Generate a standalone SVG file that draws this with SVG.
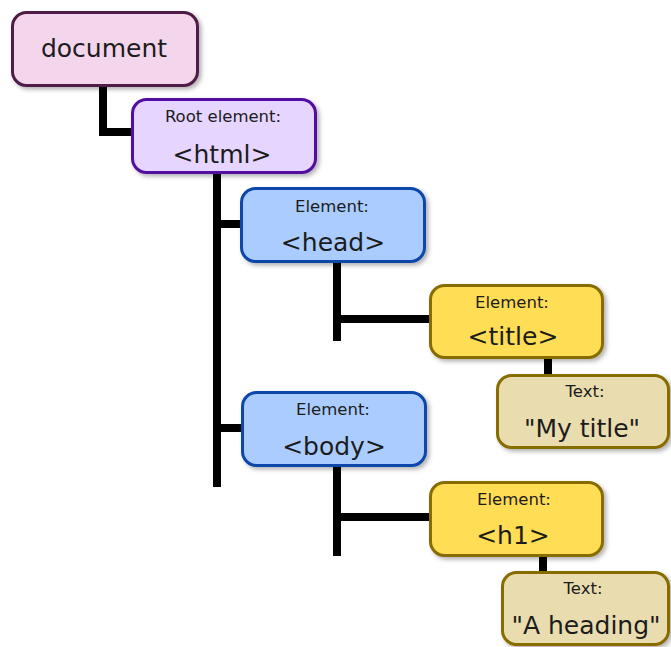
<svg xmlns="http://www.w3.org/2000/svg" width="671" height="647" viewBox="0 0 671 647">
  <defs>
    <filter id="shadow" x="-10%" y="-10%" width="130%" height="140%">
      <feDropShadow dx="2.5" dy="2.5" stdDeviation="2" flood-color="#000" flood-opacity="0.3"/>
    </filter>
  </defs>
  <style>
    .box { stroke-width: 3; filter: url(#shadow); }
    .doc { fill: #f4d6ec; stroke: #501a46; }
    .root { fill: #e5d5ff; stroke: #5210a0; }
    .elem { fill: #aaccff; stroke: #0a47aa; }
    .leaf { fill: #ffdd55; stroke: #876c00; }
    .txt { fill: #e9ddaf; stroke: #876c00; }
    text { font-family: "DejaVu Sans", "Noto Sans", sans-serif; fill: #1c1c1c; text-anchor: middle; }
    .small { font-size: 16.5px; }
    .big { font-size: 25px; }
    .wire { fill: none; stroke: #000; stroke-width: 8; stroke-linejoin: miter; stroke-linecap: butt; }
  </style>

  <!-- tree connectors -->
  <g id="connectors">
    <polyline class="wire" points="103,86 103,132 134,132"/>
    <line class="wire" x1="217" y1="174" x2="217" y2="487"/>
    <line class="wire" x1="217" y1="224" x2="242" y2="224"/>
    <line class="wire" x1="217" y1="428" x2="243" y2="428"/>
    <line class="wire" x1="337" y1="263" x2="337" y2="341"/>
    <line class="wire" x1="337" y1="319" x2="431" y2="319"/>
    <line class="wire" x1="337" y1="467" x2="337" y2="556"/>
    <line class="wire" x1="337" y1="517" x2="431" y2="517"/>
    <line class="wire" x1="548" y1="358" x2="548" y2="376"/>
    <line class="wire" x1="543" y1="556" x2="543" y2="573"/>
  </g>

  <g id="document">
    <rect class="box doc" x="12.5" y="12.5" width="185" height="73" rx="14"/>
    <text class="big" x="104" y="57">document</text>
  </g>

  <g id="html">
    <rect class="box root" x="132.5" y="99.5" width="183" height="73" rx="14"/>
    <text class="small" x="223" y="122">Root element:</text>
    <text class="big" x="222" y="163">&lt;html&gt;</text>
  </g>

  <g id="head">
    <rect class="box elem" x="241.5" y="188.5" width="183" height="73" rx="14"/>
    <text class="small" x="332" y="212">Element:</text>
    <text class="big" x="333" y="251">&lt;head&gt;</text>
  </g>

  <g id="title">
    <rect class="box leaf" x="430.5" y="285.5" width="172" height="72" rx="14"/>
    <text class="small" x="512" y="308">Element:</text>
    <text class="big" x="513" y="345">&lt;title&gt;</text>
  </g>

  <g id="title-text">
    <rect class="box txt" x="497.5" y="375.5" width="171" height="72" rx="14"/>
    <text class="small" x="585" y="397">Text:</text>
    <text class="big" x="582" y="437">"My title"</text>
  </g>

  <g id="body">
    <rect class="box elem" x="242.5" y="392.5" width="183" height="73" rx="14"/>
    <text class="small" x="333" y="415">Element:</text>
    <text class="big" x="334" y="455">&lt;body&gt;</text>
  </g>

  <g id="h1">
    <rect class="box leaf" x="430.5" y="482.5" width="172" height="73" rx="14"/>
    <text class="small" x="514" y="505">Element:</text>
    <text class="big" x="513" y="544">&lt;h1&gt;</text>
  </g>

  <g id="h1-text">
    <rect class="box txt" x="502.5" y="572.5" width="166" height="72" rx="14"/>
    <text class="small" x="583" y="594">Text:</text>
    <text class="big" x="586" y="634">"A heading"</text>
  </g>
</svg>
